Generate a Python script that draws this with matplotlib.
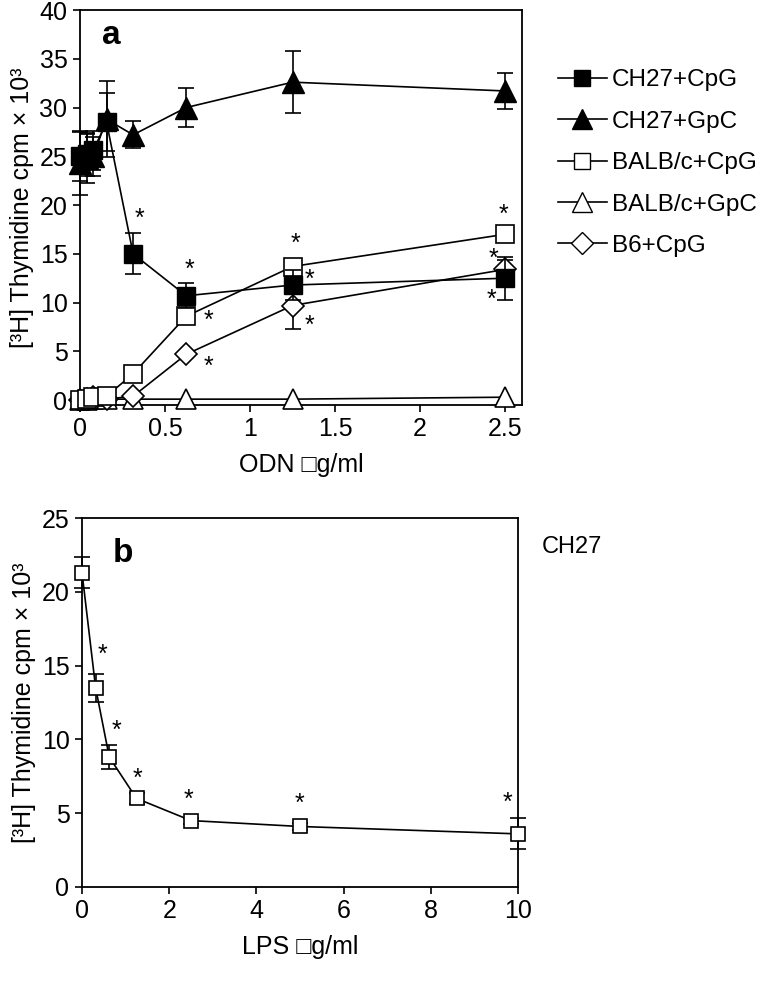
import numpy as np
import matplotlib
matplotlib.use('Agg')
import matplotlib.pyplot as plt
from matplotlib.lines import Line2D

plt.rcParams['font.family'] = ['Liberation Sans', 'DejaVu Sans']
plt.rcParams['font.size'] = 18

# panel a: ODN dose (ug/ml)
odn = [0, 0.039, 0.078, 0.156, 0.3125, 0.625, 1.25, 2.5]
ch27_cpg = [25.0, 25.2, 25.6, 28.5, 15.0, 10.7, 11.8, 12.5]
ch27_cpg_err = [2.5, 2.2, 2.0, 3.0, 2.1, 1.3, 1.5, 2.2]
ch27_gpc = [24.3, 24.8, 25.0, 28.8, 27.2, 30.0, 32.6, 31.7]
ch27_gpc_err = [3.3, 2.5, 2.0, 3.9, 1.4, 2.0, 3.2, 1.8]
balb_cpg = [0.0, 0.1, 0.3, 0.4, 2.7, 8.6, 13.7, 17.0]
balb_gpc = [0.0, 0.0, 0.1, 0.1, 0.1, 0.1, 0.1, 0.3]
b6_cpg = [0.0, 0.1, 0.3, 0.1, 0.4, 4.7, 9.7, 13.4]
b6_cpg_err = [0, 0, 0, 0, 0, 0, 2.4, 1.0]

# asterisks panel a (x, y)
stars_a_x = [0.35, 0.645, 0.755, 0.755, 1.27, 1.35, 1.35, 2.49, 2.43, 2.42]
stars_a_y = [18.6, 13.4, 8.1, 3.4, 16.0, 12.3, 7.6, 19.0, 14.5, 10.3]

# panel b: LPS dose (ug/ml)
lps = [0, 0.3125, 0.625, 1.25, 2.5, 5, 10]
lps_val = [21.3, 13.5, 8.8, 6.0, 4.5, 4.1, 3.6]
lps_err = [1.05, 0.95, 0.8, 0.4, 0.2, 0.25, 1.05]
stars_b_x = [0.48, 0.8, 1.28, 2.45, 4.98, 9.77]
stars_b_y = [15.7, 10.6, 7.3, 5.9, 5.6, 5.7]

ylab = '[³H] Thymidine cpm × 10³'

fig = plt.figure(figsize=(7.58, 9.82), dpi=100)
ax = fig.add_axes([80/758, 1-405/982, 442/758, 395/982])
bx = fig.add_axes([82/758, 1-887/982, 436/758, 369/982])

lw = 1.2
kw = dict(color='black', lw=lw, capsize=5.5, elinewidth=lw, capthick=lw, clip_on=False)

ax.errorbar(odn, balb_gpc, fmt='-^', ms=15, mfc='white', mec='black', mew=1.2, zorder=3, **kw)
ax.errorbar(odn, b6_cpg, yerr=b6_cpg_err, fmt='-D', ms=11, mfc='white', mec='black', mew=1.2, zorder=4, **kw)
ax.errorbar(odn, balb_cpg, fmt='-s', ms=13, mfc='white', mec='black', mew=1.2, zorder=5, **kw)
ax.errorbar(odn, ch27_gpc, yerr=ch27_gpc_err, fmt='-^', ms=16, mfc='black', mec='black', zorder=6, **kw)
ax.errorbar(odn, ch27_cpg, yerr=ch27_cpg_err, fmt='-s', ms=13, mfc='black', mec='black', zorder=7, **kw)

for x, y in zip(stars_a_x, stars_a_y):
    ax.text(x, y, '*', ha='center', va='center', fontsize=18, zorder=10)

ax.text(0.05, 0.915, 'a', transform=ax.transAxes, fontsize=24, fontweight='bold')
ax.set_xlim(0, 2.6)
ax.set_ylim(-0.5, 40)
ax.set_xticks([0, 0.5, 1, 1.5, 2, 2.5])
ax.set_xticklabels(['0', '0.5', '1', '1.5', '2', '2.5'])
ax.set_yticks(range(0, 41, 5))
ax.set_xlabel('ODN □g/ml', labelpad=8)
ax.set_ylabel(ylab, labelpad=4)

bx.errorbar(lps, lps_val, yerr=lps_err, fmt='-s', ms=10, mfc='white', mec='black', mew=1.2, zorder=5, **kw)
for x, y in zip(stars_b_x, stars_b_y):
    bx.text(x, y, '*', ha='center', va='center', fontsize=18, zorder=10)
bx.text(0.07, 0.88, 'b', transform=bx.transAxes, fontsize=24, fontweight='bold')
bx.set_xlim(0, 10)
bx.set_ylim(0, 25)
bx.set_xticks(range(0, 11, 2))
bx.set_yticks(range(0, 26, 5))
bx.set_xlabel('LPS □g/ml', labelpad=8)
bx.set_ylabel(ylab, labelpad=4)
fig.text(572/758, 1-547/982, 'CH27', ha='center', va='center', fontsize=17)

for a in (ax, bx):
    for s in a.spines.values():
        s.set_linewidth(1.3)
    a.tick_params(direction='out', length=5, width=1.2, pad=4, labelsize=18)

handles = [
    Line2D([], [], color='black', lw=lw, marker='s', ms=12, mfc='black', mec='black'),
    Line2D([], [], color='black', lw=lw, marker='^', ms=14, mfc='black', mec='black'),
    Line2D([], [], color='black', lw=lw, marker='s', ms=12, mfc='white', mec='black'),
    Line2D([], [], color='black', lw=lw, marker='^', ms=14, mfc='white', mec='black'),
    Line2D([], [], color='black', lw=lw, marker='D', ms=11, mfc='white', mec='black'),
]
labels = ['CH27+CpG', 'CH27+GpC', 'BALB/c+CpG', 'BALB/c+GpC', 'B6+CpG']
fig.legend(handles, labels, loc='upper left', bbox_to_anchor=(546/758, 1-57/982),
           frameon=False, fontsize=17.5, handlelength=2.0, handletextpad=0.2,
           labelspacing=0.8, borderpad=0)

fig.savefig('out.png', dpi=100)
